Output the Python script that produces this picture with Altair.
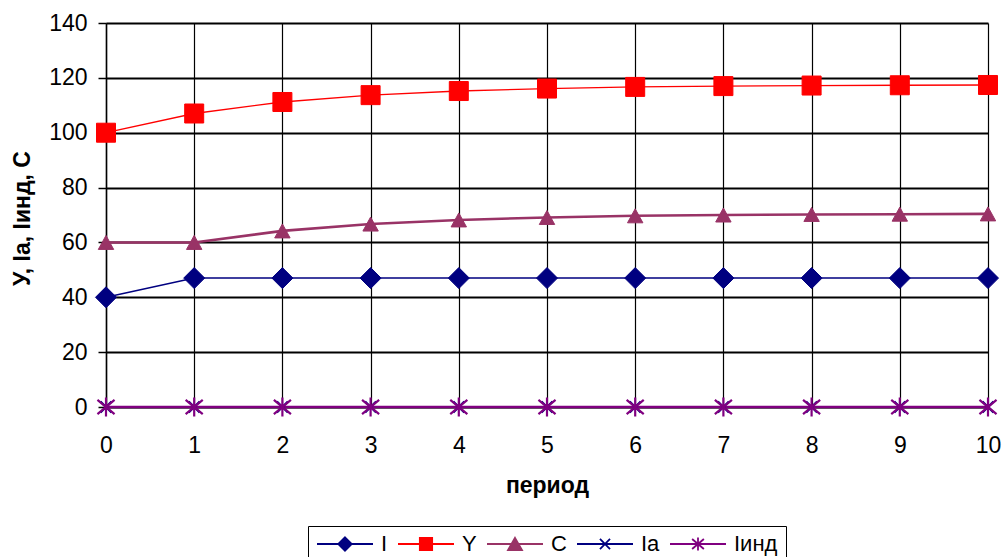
import altair as alt
import pandas as pd

FONT = "Liberation Sans"

periods = [0, 1, 2, 3, 4, 5, 6, 7, 8, 9, 10]
series_names = ["I", "Y", "C", "Ia", "Iинд"]
I_vals = [40, 47, 47, 47, 47, 47, 47, 47, 47, 47, 47]
Y_vals = [100, 107, 111.2, 113.7, 115.2, 116.1, 116.7, 117.0, 117.2, 117.3, 117.4]
C_vals = [60, 60, 64.2, 66.7, 68.2, 69.1, 69.7, 70.0, 70.2, 70.3, 70.4]
Ia_vals = [0, 0, 0, 0, 0, 0, 0, 0, 0, 0, 0]
Iind_vals = [0, 0, 0, 0, 0, 0, 0, 0, 0, 0, 0]
y_ticks = [0, 20, 40, 60, 80, 100, 120, 140]

colors = ["#000080", "#FF0000", "#993366", "#000080", "#800080"]
line_widths = [1.5, 1.3, 2.6, 1.5, 2.4]
marker_paths = [
    "M0,-1L1,0L0,1L-1,0Z",
    "square",
    "M0,-1L1.1,1H-1.1Z",
    "M-1,-1L1,1M-1,1L1,-1",
    "M-0.95,-0.8L0.95,0.8M-0.95,0.8L0.95,-0.8M0,-1.05V1.05",
]
marker_sizes = [441, 361, 196, 121, 324]
marker_filled = [True, True, True, False, False]
legend_paths = [
    "M-1,0H1M0,-0.24L0.24,0L0,0.24L-0.24,0Z",
    "M-1,0H1M-0.22,-0.22H0.22V0.22H-0.22Z",
    "M-1,0H1M0,-0.22L0.25,0.22H-0.25Z",
    "M-1,0H1M-0.18,-0.18L0.18,0.18M-0.18,0.18L0.18,-0.18",
    "M-1,0H1M-0.21,-0.18L0.21,0.18M-0.21,0.18L0.21,-0.18M0,-0.23V0.23",
]

all_vals = [I_vals, Y_vals, C_vals, Ia_vals, Iind_vals]
rows = []
for name, vals in zip(series_names, all_vals):
    for p, v in zip(periods, vals):
        rows.append({"period": p, "value": v, "series": name})
df = pd.DataFrame(rows)

x_enc = alt.X(
    "period:Q",
    scale=alt.Scale(domain=[0, 10], nice=False, zero=False),
    axis=alt.Axis(
        values=periods, format="d", grid=True, gridColor="black", gridWidth=1.2,
        ticks=False, domain=True, domainColor="black", domainWidth=1.5,
        labelFont=FONT, labelFontSize=23, labelColor="black", labelFlush=False,
        labelBaseline="alphabetic", labelPadding=45,
        title="период", titleFont=FONT, titleFontSize=23, titleFontWeight="bold",
        titleColor="black", titleBaseline="alphabetic", titleY=85,
    ),
)
y_enc = alt.Y(
    "value:Q",
    scale=alt.Scale(domain=[0, 140], nice=False),
    axis=alt.Axis(
        values=y_ticks, grid=True, gridColor="black", gridWidth=2,
        tickSize=8, tickColor="black", tickWidth=1.5,
        domain=True, domainColor="black", domainWidth=1.5,
        labelFont=FONT, labelFontSize=23, labelColor="black", labelPadding=11,
        labelFlush=False,
        title="У, Iа, Iинд, С", titleFont=FONT, titleFontSize=23,
        titleFontWeight="bold", titleColor="black", titleAngle=270,
        titleAlign="center", titleBaseline="alphabetic", titleX=-77, titleY=195,
    ),
)

base = alt.Chart(df).encode(x=x_enc, y=y_enc)

layers = []
for i, name in enumerate(series_names):
    sub = base.transform_filter(alt.datum.series == name)
    layers.append(sub.mark_line(color=colors[i], strokeWidth=line_widths[i]))
for i, name in enumerate(series_names):
    sub = base.transform_filter(alt.datum.series == name)
    if marker_filled[i]:
        pt = sub.mark_point(shape=marker_paths[i], size=marker_sizes[i], filled=True,
                            fill=colors[i], stroke=colors[i], strokeWidth=1, opacity=1)
    else:
        pt = sub.mark_point(shape=marker_paths[i], size=marker_sizes[i], filled=False,
                            color=colors[i], strokeWidth=2.2, opacity=1)
    layers.append(pt)

leg = alt.Legend(
    title=None, orient="none", legendX=202, legendY=503, direction="horizontal",
    symbolSize=3136, symbolStrokeWidth=1.8, clipHeight=20,
    labelFont=FONT, labelFontSize=22, labelColor="black", labelOffset=7,
    columnPadding=9, padding=8, strokeColor="black", fillColor="white", labelLimit=0,
)
legend_layer = base.transform_filter("false").mark_point(filled=True, opacity=1).encode(
    color=alt.Color("series:N", scale=alt.Scale(domain=series_names, range=colors), legend=leg),
    stroke=alt.Stroke("series:N", scale=alt.Scale(domain=series_names, range=colors), legend=leg),
    shape=alt.Shape("series:N", scale=alt.Scale(domain=series_names, range=legend_paths), legend=leg),
)
layers.append(legend_layer)

chart = alt.layer(*layers).properties(
    width=882, height=384,
    autosize=alt.AutoSizeParams(type="none"),
    padding={"left": 106, "top": 23, "right": 17, "bottom": 150},
    background="white",
).configure_view(stroke=None)

chart.save("out.html", embed_options={"renderer": "svg", "actions": False})
